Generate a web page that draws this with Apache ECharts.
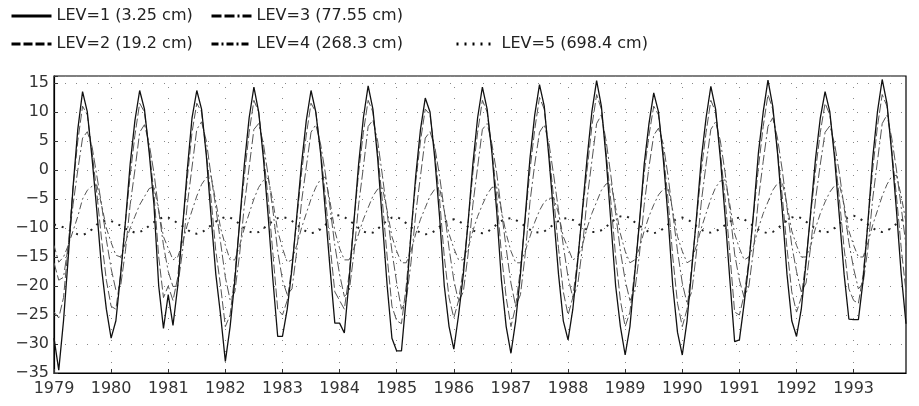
<!DOCTYPE html>
<html>
<head>
<meta charset="utf-8">
<script src="https://cdn.jsdelivr.net/npm/echarts@6/dist/echarts.min.js"></script>
<style>
  html, body { margin: 0; padding: 0; background: #fff; }
  #chart { width: 919px; height: 406px; }
</style>
</head>
<body>
<div id="chart"></div>
<script>
// years and months of the monthly series (Jan 1979 .. Dec 1993)
var years = [1979, 1980, 1981, 1982, 1983, 1984, 1985, 1986, 1987, 1988, 1989, 1990, 1991, 1992, 1993];
var months = ['01', '02', '03', '04', '05', '06', '07', '08', '09', '10', '11', '12'];
var yTicks = [-35, -30, -25, -20, -15, -10, -5, 0, 5, 10, 15];

var levNames = ['LEV=1 (3.25 cm)', 'LEV=2 (19.2 cm)', 'LEV=3 (77.55 cm)', 'LEV=4 (268.3 cm)', 'LEV=5 (698.4 cm)'];

// one row of 12 monthly values per year
var lev1 = [
  [-29, -34.5, -26, -15, -3, 7, 13.5, 10, 2, -7, -17, -24],
  [-29, -26, -18, -9, 1, 8.5, 13.7, 10.5, 3, -6, -20, -27.3],
  [-21.5, -26.8, -20, -10, 0, 9, 13.7, 10.5, 2.5, -8, -18, -25],
  [-33, -27, -19, -9, 1, 9, 14.3, 10, 2, -8, -19, -28.7],
  [-28.7, -24, -17, -8, 1, 8.5, 13.7, 10, 3, -7, -17, -26.4],
  [-26.4, -28.1, -19, -9, 1, 9, 14.5, 10.5, 2, -9, -20, -29],
  [-31.2, -31.2, -22, -11, -1, 7, 12.4, 10, 2, -8, -20, -27],
  [-30.9, -25, -18, -9, 1, 9, 14.3, 10.5, 3, -7, -19, -27],
  [-31.6, -26, -18, -8, 2, 9.5, 14.7, 11, 2, -8, -18, -26],
  [-29.3, -24, -16, -7, 2, 10, 15.4, 11, 2, -9, -20, -27],
  [-31.9, -27, -18, -9, 1, 8, 13.3, 10, 2, -8, -20, -28],
  [-31.9, -26, -17, -8, 2, 9, 14.4, 10.5, 2, -8, -19, -29.6],
  [-29.3, -23, -16, -7, 3, 10, 15.5, 11, 3, -7, -18, -26],
  [-28.7, -24, -16, -7, 2, 9, 13.5, 10, 2, -8, -18, -25.7],
  [-25.8, -25.8, -19, -9, 2, 10, 15.6, 11.5, 3, -7, -18, -26.5]
];
var lev2 = [
  [-24.5, -25.5, -22, -13, -3, 5, 11, 9.5, 3, -4, -12, -19],
  [-23.5, -24, -18, -9, -1, 6, 11.5, 10, 3.5, -4, -15, -22],
  [-20, -22.5, -18.5, -10, -1.5, 6.5, 11.5, 10, 3, -5, -14, -20],
  [-27, -25, -18, -9, -1, 6.5, 12, 10, 3, -5, -14.5, -24],
  [-25, -22.5, -16.5, -8.5, -0.5, 6, 11.5, 10, 3.5, -4.5, -13, -21],
  [-22.5, -24, -18, -9, -0.5, 6.5, 12, 10, 3, -5.5, -15, -23.5],
  [-26, -26.5, -20, -11, -2, 5, 10.5, 9.5, 3, -5, -15, -22],
  [-25.5, -22.5, -17, -9, -0.5, 6.5, 12, 10, 3.5, -4.5, -14.5, -22],
  [-27, -23.5, -17, -8.5, 0, 7, 12.5, 10.5, 3, -5, -13.5, -21],
  [-25, -22, -15.5, -7.5, 0, 7.5, 13, 10.5, 3, -5.5, -15, -22.5],
  [-27, -24.5, -17.5, -9, -0.5, 6, 11, 9.5, 3, -5, -15, -23],
  [-27, -24, -16.5, -8.5, 0, 6.5, 12, 10, 3, -5, -14.5, -24.5],
  [-25, -21.5, -15.5, -7.5, 0.5, 7.5, 13, 10.5, 3.5, -4.5, -13.5, -21],
  [-24.5, -22, -15.5, -7.5, 0, 6.5, 11.5, 9.5, 3, -5, -13.5, -20.5],
  [-22.5, -23, -18, -9, 0, 7.5, 13, 11, 3.5, -4.5, -13.5, -21]
];
var lev3 = [
  [-16, -19, -18.5, -13, -6, 0, 5.5, 6.6, 4, -1, -6, -12],
  [-17, -20.7, -20, -14, -6, 0, 6.5, 7.8, 4.5, -0.5, -7, -13],
  [-17.5, -20.1, -20, -14, -6, 0.5, 7, 8.3, 5, -1, -6.5, -12.5],
  [-18.5, -22.4, -21, -14.5, -6, 0.5, 7, 8, 4.5, -1, -7, -14],
  [-19, -21.5, -20.5, -14, -5.5, 0.5, 6.5, 7.8, 4.5, -0.5, -6.5, -13],
  [-18, -21.8, -21, -14.5, -6, 0.5, 7.5, 8.6, 5, -1, -7.5, -14],
  [-19.5, -24, -22.5, -16, -7.5, -1, 5.5, 6.6, 4, -1, -7, -13.5],
  [-19, -22.7, -21, -14.5, -6, 0.5, 7, 8, 4.5, -0.5, -7, -13.5],
  [-19.5, -23.5, -21.5, -14.5, -5.5, 1, 6.5, 7.8, 4.5, -1, -7, -13],
  [-18.5, -22, -20, -13.5, -5, 1.5, 8, 9.5, 5, -1, -7.5, -14],
  [-19, -22.5, -21, -14.5, -6, 0.5, 6, 7.2, 4.5, -1, -7.5, -14],
  [-19.5, -23, -21, -14, -5.5, 1, 7, 8.3, 5, -0.5, -7, -14.5],
  [-19, -22, -20, -13.5, -5, 1.5, 7.5, 9, 5.5, 0, -6.5, -13],
  [-17.5, -21, -19.5, -13, -5, 1, 6.5, 7.6, 4.5, -0.5, -6.5, -12.5],
  [-17, -20.5, -19.5, -13.5, -5, 1.5, 8, 9.5, 5.5, 0, -6.5, -13]
];
var lev4 = [
  [-13, -15.9, -15, -13, -10.5, -8, -5, -3.5, -2.8, -2.6, -6, -10],
  [-12.5, -14.7, -15, -12.6, -10, -8, -6, -4.6, -3.2, -2.9, -7, -11.5],
  [-13.5, -15.5, -15, -12.5, -9.5, -7, -4.5, -2.5, -1.3, -1, -5.5, -10],
  [-13, -15.5, -15.5, -13, -10, -7.5, -5, -3, -1.8, -1.4, -5.5, -10.5],
  [-13.5, -15.9, -15.5, -13, -10, -7.5, -5, -3, -1.6, -1.2, -5.5, -10.5],
  [-13.5, -15.5, -15.5, -13.5, -11, -8.5, -6.5, -4.5, -3.3, -3.1, -7, -11.5],
  [-14, -16, -16, -14, -11, -8.5, -6.5, -4.5, -3.3, -3.1, -7, -11],
  [-13.5, -15.5, -15.5, -13.5, -10.5, -8, -6, -4.2, -3, -2.9, -7, -11],
  [-14, -16, -16, -14, -11.5, -9, -7, -5.5, -4.9, -4.8, -7.5, -11.5],
  [-13.5, -15.5, -15, -13, -10, -7.5, -5.5, -3.5, -2.4, -2.2, -6.5, -11],
  [-14, -16, -15.5, -13.5, -10.5, -8, -6, -4.3, -3.3, -3.1, -7, -11.5],
  [-14, -16, -15.5, -13, -10, -7.5, -5, -3, -1.9, -1.7, -6, -11],
  [-13.5, -15.5, -15, -13, -10, -7.5, -5.5, -3.5, -2.3, -2.1, -6, -10.5],
  [-13, -15, -15, -13, -10, -7.5, -5.5, -3.8, -2.7, -2.5, -6, -10.5],
  [-13, -15, -15, -12.5, -9.5, -7, -4.5, -2.5, -1.1, -0.9, -4.5, -9]
];
var lev5 = [
  [-9.4, -9.6, -9.9, -10.3, -10.7, -11.1, -11.2, -10.9, -10.2, -9.4, -8.9, -8.7],
  [-8.8, -9.2, -9.6, -10.1, -10.5, -10.8, -10.7, -10.3, -9.6, -9, -8.5, -8.1],
  [-8.2, -8.6, -9.2, -9.7, -10.3, -10.8, -11, -10.8, -10.2, -9.5, -8.9, -8.4],
  [-8.1, -8.2, -8.7, -9.3, -10, -10.6, -10.9, -10.7, -10.1, -9.4, -8.8, -8.3],
  [-8.1, -8.3, -8.8, -9.4, -10.1, -10.6, -10.9, -10.8, -10.2, -9.5, -8.6, -7.9],
  [-7.8, -8.1, -8.7, -9.3, -10, -10.6, -10.9, -10.8, -10.2, -9.4, -8.7, -8.2],
  [-8.1, -8.5, -9.2, -9.9, -10.4, -10.8, -11.1, -11, -10.5, -9.8, -9.1, -8.6],
  [-8.5, -8.8, -9.3, -9.8, -10.4, -10.8, -10.9, -10.7, -10.1, -9.4, -8.8, -8.4],
  [-8.3, -8.6, -9.1, -9.7, -10.3, -10.7, -10.8, -10.6, -10, -9.4, -8.8, -8.4],
  [-8.3, -8.6, -9.2, -9.8, -10.3, -10.7, -10.7, -10.4, -9.8, -9.1, -8.4, -8],
  [-7.9, -8.3, -9, -9.6, -10.2, -10.7, -10.9, -10.7, -10.1, -9.4, -8.8, -8.4],
  [-8.2, -8.5, -9, -9.7, -10.3, -10.7, -10.8, -10.6, -10.1, -9.5, -8.9, -8.4],
  [-8.2, -8.5, -9.1, -9.7, -10.3, -10.7, -10.9, -10.7, -10.1, -9.4, -8.7, -8.2],
  [-8, -8.3, -8.9, -9.5, -10.1, -10.6, -10.8, -10.6, -10, -9.3, -8.6, -8.1],
  [-7.9, -8.2, -8.8, -9.4, -10, -10.5, -10.7, -10.5, -9.9, -9.3, -8.7, -8.3]
];

var categories = [];
years.forEach(function (y) {
  months.forEach(function (m) { categories.push(y + '-' + m); });
});

function flat(rows) {
  return [].concat.apply([], rows);
}

var chart = echarts.init(document.getElementById('chart'), null, { renderer: 'canvas' });
var font = 'DejaVu Sans';

var styles = [
  { color: '#111', width: 1.3, type: 'solid' },
  { color: '#555', width: 1, type: [9, 3] },
  { color: '#555', width: 1, type: [10, 3, 10, 3, 2, 3] },
  { color: '#555', width: 1, type: [7, 3, 2, 3] },
  { color: '#222', width: 2, type: [2, 6] }
];
var seriesData = [lev1, lev2, lev3, lev4, lev5];

function legendAt(name, left, top) {
  return {
    data: [name],
    left: left,
    top: top,
    itemWidth: 40,
    itemHeight: 12,
    itemGap: 4,
    padding: 0,
    itemStyle: { opacity: 0 },
    lineStyle: { width: 3, color: '#000' },
    textStyle: { fontFamily: font, fontSize: 16, color: '#222' }
  };
}

var yearTick = function (index) { return index % 12 === 0; };

var option = {
  animation: false,
  backgroundColor: '#fff',
  color: styles.map(function (s) { return s.color; }),
  legend: [
    legendAt(levNames[0], 10, 8),
    legendAt(levNames[2], 210, 8),
    legendAt(levNames[1], 10, 36),
    legendAt(levNames[3], 210, 36),
    legendAt(levNames[4], 455, 36)
  ],
  grid: {
    left: 54, right: 13, top: 76, bottom: 33,
    show: true, borderColor: '#000', borderWidth: 1.2
  },
  xAxis: {
    type: 'category',
    data: categories,
    boundaryGap: false,
    axisLine: { onZero: false, lineStyle: { color: '#000', width: 1.2 } },
    axisTick: { show: true, inside: true, length: 4, interval: yearTick, lineStyle: { color: '#333' } },
    axisLabel: {
      interval: yearTick,
      fontFamily: font, fontSize: 16, color: '#333', margin: 8,
      formatter: function (v) { return v.slice(0, 4); }
    },
    splitLine: { show: true, interval: yearTick, lineStyle: { color: '#888', type: [1, 10], width: 1 } }
  },
  yAxis: {
    type: 'value',
    min: yTicks[0],
    max: 16.2,
    interval: 5,
    axisLine: { show: true, lineStyle: { color: '#000', width: 1.2 } },
    axisTick: { show: true, inside: true, length: 4, lineStyle: { color: '#333' } },
    axisLabel: {
      fontFamily: font, fontSize: 16, color: '#333', margin: 5,
      formatter: function (v) {
        if (yTicks.indexOf(v) < 0) return '';
        return v < 0 ? '\u2212' + Math.abs(v) : String(v);
      }
    },
    splitLine: { show: true, lineStyle: { color: '#888', type: [1, 10], width: 1 } }
  },
  series: seriesData.map(function (rows, i) {
    return {
      name: levNames[i],
      type: 'line',
      data: flat(rows),
      symbol: 'none',
      smooth: false,
      z: 10 - i,
      itemStyle: { color: styles[i].color },
      lineStyle: styles[i]
    };
  })
};

chart.setOption(option);
</script>
</body>
</html>
